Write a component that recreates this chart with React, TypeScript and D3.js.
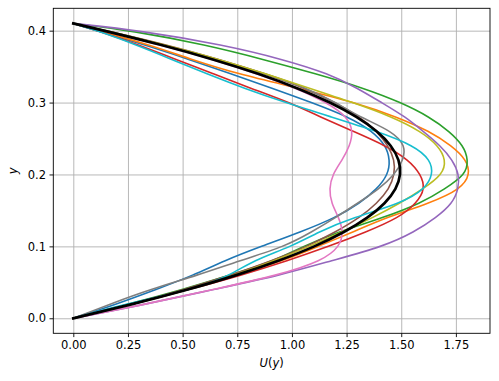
import React, { useRef, useEffect } from "react";
import * as d3 from "d3";

// y positions across the channel where U(y) was read
const yLevels = [0, 0.02, 0.04, 0.06, 0.08, 0.1, 0.12, 0.14, 0.16, 0.18, 0.2, 0.22, 0.24, 0.26, 0.28, 0.3, 0.32, 0.34, 0.36, 0.38, 0.4, 0.41];

const uBlue = [0, 0.2, 0.38, 0.55, 0.69, 0.86, 1.04, 1.2, 1.31, 1.39, 1.44, 1.449, 1.43, 1.37, 1.26, 1.09, 0.91, 0.72, 0.53, 0.33, 0.11, 0];
const uOrange = [0, 0.27, 0.52, 0.74, 0.96, 1.12, 1.28, 1.43, 1.63, 1.775, 1.815, 1.8, 1.73, 1.63, 1.48, 1.29, 1.03, 0.75, 0.54, 0.35, 0.12, 0];
const uGreen = [0, 0.26, 0.5, 0.72, 0.92, 1.05, 1.21, 1.42, 1.59, 1.7, 1.795, 1.807, 1.785, 1.72, 1.63, 1.5, 1.33, 1.11, 0.87, 0.61, 0.27, 0];
const uRed = [0, 0.28, 0.53, 0.77, 0.98, 1.17, 1.34, 1.49, 1.57, 1.61, 1.59, 1.535, 1.43, 1.28, 1.13, 0.99, 0.81, 0.64, 0.47, 0.3, 0.11, 0];
const uPurple = [0, 0.34, 0.64, 0.95, 1.18, 1.42, 1.56, 1.66, 1.735, 1.762, 1.765, 1.735, 1.68, 1.6, 1.52, 1.41, 1.3, 1.17, 0.96, 0.69, 0.31, 0];
const uBrown = [0, 0.27, 0.51, 0.72, 0.91, 1.07, 1.2, 1.31, 1.39, 1.445, 1.47, 1.47, 1.44, 1.39, 1.31, 1.2, 1.06, 0.88, 0.67, 0.43, 0.15, 0];
const uPink = [0, 0.34, 0.64, 0.94, 1.14, 1.22, 1.235, 1.215, 1.18, 1.17, 1.185, 1.23, 1.265, 1.28, 1.255, 1.16, 1.02, 0.84, 0.64, 0.4, 0.14, 0];
const uGray = [0, 0.17, 0.35, 0.57, 0.76, 0.97, 1.09, 1.2, 1.3, 1.4, 1.47, 1.51, 1.52, 1.46, 1.31, 1.2, 1.07, 0.88, 0.66, 0.41, 0.15, 0];
const uOlive = [0, 0.28, 0.53, 0.74, 0.92, 1.08, 1.23, 1.37, 1.494, 1.6, 1.69, 1.705, 1.67, 1.59, 1.46, 1.28, 1.08, 0.88, 0.67, 0.42, 0.15, 0];
const uCyan = [0, 0.24, 0.55, 0.72, 0.82, 1.0, 1.12, 1.28, 1.5, 1.61, 1.645, 1.635, 1.56, 1.39, 1.18, 0.97, 0.78, 0.61, 0.45, 0.29, 0.11, 0];
const uMean = [0, 0.278, 0.528, 0.75, 0.942, 1.107, 1.242, 1.349, 1.428, 1.478, 1.499, 1.492, 1.456, 1.392, 1.299, 1.178, 1.028, 0.85, 0.643, 0.407, 0.143, 0];

const xTicks = [0, 0.25, 0.5, 0.75, 1.0, 1.25, 1.5, 1.75];
const yTicks = [0, 0.1, 0.2, 0.3, 0.4];

const profiles = [uBlue, uOrange, uGreen, uRed, uPurple, uBrown, uPink, uGray, uOlive, uCyan];
const colors = ["#1f77b4", "#ff7f0e", "#2ca02c", "#d62728", "#9467bd", "#8c564b", "#e377c2", "#7f7f7f", "#bcbd22", "#17becf"];

const W = 499;
const H = 381;
const margin = { left: 53.3, right: 9, top: 8.3, bottom: 47.7 };
const FONT = "'DejaVu Sans', sans-serif";

function ProfileChart() {
  const svgRef = useRef<SVGSVGElement>(null);

  useEffect(() => {
    const svg = d3.select(svgRef.current);
    svg.selectAll("*").remove();

    const x = d3.scaleLinear().domain([-0.0915, 1.906]).range([margin.left, W - margin.right]);
    const y = d3.scaleLinear().domain([-0.0209, 0.4311]).range([H - margin.bottom, margin.top]);
    const innerW = W - margin.left - margin.right;
    const innerH = H - margin.top - margin.bottom;

    // grid
    svg
      .append("g")
      .attr("transform", `translate(0,${H - margin.bottom})`)
      .call(d3.axisBottom(x).tickValues(xTicks).tickSize(-innerH).tickFormat(() => ""))
      .call((g) => g.select(".domain").remove())
      .call((g) => g.selectAll("line").attr("stroke", "#b0b0b0").attr("stroke-width", 0.9));
    svg
      .append("g")
      .attr("transform", `translate(${margin.left},0)`)
      .call(d3.axisLeft(y).tickValues(yTicks).tickSize(-innerW).tickFormat(() => ""))
      .call((g) => g.select(".domain").remove())
      .call((g) => g.selectAll("line").attr("stroke", "#b0b0b0").attr("stroke-width", 0.9));

    const lineGen = d3
      .line<number>()
      .x((u) => x(u))
      .y((_, i) => y(yLevels[i]))
      .curve(d3.curveBasis);

    const content = svg.append("g");
    content
      .selectAll(".profile")
      .data(profiles)
      .join("path")
      .attr("class", "profile")
      .attr("fill", "none")
      .attr("stroke", (_, i) => colors[i])
      .attr("stroke-width", 1.6)
      .attr("stroke-linecap", "square")
      .attr("d", (d) => lineGen(d));

    content
      .append("path")
      .attr("fill", "none")
      .attr("stroke", "#000")
      .attr("stroke-width", 2.7)
      .attr("stroke-linecap", "square")
      .attr("d", lineGen(uMean));

    // axes
    const xAxis = svg
      .append("g")
      .attr("transform", `translate(0,${H - margin.bottom})`)
      .call(d3.axisBottom(x).tickValues(xTicks).tickSize(3.8).tickPadding(3.5).tickFormat(d3.format(".2f")));
    const yAxis = svg
      .append("g")
      .attr("transform", `translate(${margin.left},0)`)
      .call(d3.axisLeft(y).tickValues(yTicks).tickSize(3.8).tickPadding(3.5).tickFormat(d3.format(".1f")));
    [xAxis, yAxis].forEach((g) => {
      g.select(".domain").remove();
      g.selectAll("line").attr("stroke", "#000").attr("stroke-width", 0.9);
      g.selectAll("text").attr("fill", "#000").style("font-family", FONT).style("font-size", "11.5px");
    });

    svg
      .append("rect")
      .attr("x", margin.left)
      .attr("y", margin.top)
      .attr("width", innerW)
      .attr("height", innerH)
      .attr("fill", "none")
      .attr("stroke", "#000")
      .attr("stroke-width", 0.9);

    // axis labels
    const xl = svg
      .append("text")
      .attr("x", margin.left + innerW / 2)
      .attr("y", 367)
      .attr("text-anchor", "middle")
      .style("font-family", FONT)
      .style("font-size", "11.5px");
    xl.append("tspan").attr("font-style", "italic").text("U");
    xl.append("tspan").text("(");
    xl.append("tspan").attr("font-style", "italic").text("y");
    xl.append("tspan").text(")");

    svg
      .append("text")
      .attr("transform", `translate(17,${margin.top + innerH / 2}) rotate(-90)`)
      .attr("text-anchor", "middle")
      .attr("font-style", "italic")
      .style("font-family", FONT)
      .style("font-size", "11.5px")
      .text("y");
  }, []);

  return <svg ref={svgRef} width={W} height={H} style={{ position: "absolute", left: 0, top: 0, background: "#fff" }} />;
}

export default function App() {
  return <ProfileChart />;
}
